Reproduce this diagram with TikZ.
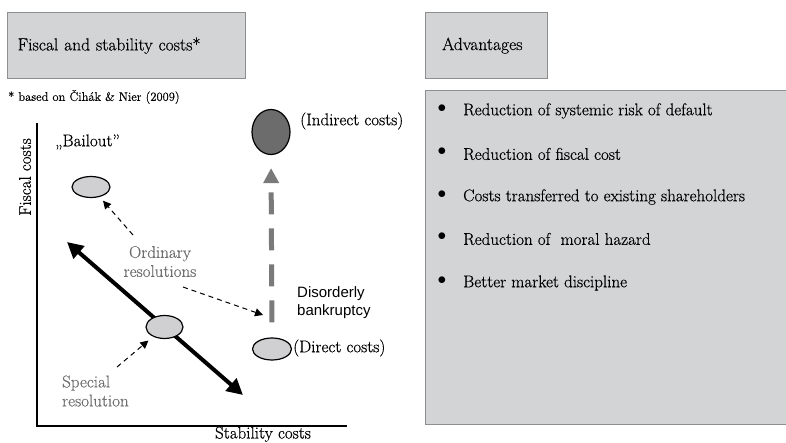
\documentclass[tikz,border=0pt]{standalone}
\usepackage{fontspec}
\setmainfont{Latin Modern Roman}[FakeBold=0.45]
\newfontfamily\arialf{Liberation Sans}
\usetikzlibrary{arrows.meta,shapes.geometric}
\definecolor{boxfill}{HTML}{D3D4D6}
\definecolor{boxline}{HTML}{8E8E8E}
\definecolor{ellfill}{HTML}{D0D0D2}
\definecolor{elldark}{HTML}{6C6C6C}
\definecolor{arrgray}{HTML}{7A7A7A}
\definecolor{txtgray}{HTML}{6E6E6E}
\tikzset{
  graybox/.style={draw=boxline, line width=1.3pt, fill=boxfill},
  bigtxt/.style={font=\fontsize{17}{19}\selectfont, inner sep=0pt},
  graytxt/.style={bigtxt, text=txtgray},
  ell/.style={ellipse, draw=black, line width=1.2pt, fill=ellfill, inner sep=0pt},
  dasharrow/.style={dashed, dash pattern=on 5pt off 4pt, line width=1pt, -{Triangle[length=8pt,width=8pt]}},
  thickarrow/.style={line width=4pt, {Triangle[length=16pt,width=16pt]}-{Triangle[length=16pt,width=16pt]}},
  grayarrow/.style={draw=arrgray, line width=5pt, dash pattern=on 22pt off 14pt, -{Triangle[length=15pt,width=15pt,fill=arrgray]}},
  bul/.style={bigtxt, anchor=west},
}
\begin{document}
\begin{tikzpicture}[x=1pt,y=-1pt]
\useasboundingbox (0,0) rectangle (786,443);
% title boxes
\node[graybox, anchor=north west, minimum width=238pt, minimum height=66pt, text width=218pt, inner xsep=10pt, align=left, font=\fontsize{17.5}{20}\selectfont] (t1) at (7,12) {Fiscal and stability costs*};
\node[graybox, anchor=north west, minimum width=122pt, minimum height=66pt, text width=111pt, inner xsep=0pt, inner ysep=0pt, align=left, font=\fontsize{17.5}{20}\selectfont] (t2) at (425,12) {\hspace*{11pt}Advantages};
\node[anchor=west, inner sep=0pt, font=\fontsize{12.5}{14}\selectfont] (fn) at (8,97) {* based on Čihák \& Nier (2009)};
% big box
\node[graybox, anchor=north west, minimum width=364pt, minimum height=334pt] (big) at (425,90) {};
\foreach \yy/\tx [count=\i] in {111/Reduction of systemic risk of default, 154/Reduction of fiscal cost, 197/Costs transferred to existing shareholders, 239/Reduction of\ \ moral hazard, 283/Better market discipline}{
  \node[bul] (b\i) at (463,\yy) {\tx};
  \node[inner sep=0pt, font=\fontsize{17}{19}\selectfont] (d\i) at (442,\yy-2) {$\bullet$};
}
% axes
\coordinate (ytop) at (37,123);
\coordinate (orig) at (37,426);
\coordinate (xend) at (347,426);
\draw[line width=1.5pt] (ytop) -- (orig) -- (xend);
\node[bigtxt, rotate=90] (ylab) at (25,177) {Fiscal costs};
\node[bigtxt, anchor=base] (xlab) at (263,438.5) {Stability costs};
% thick double arrow
\coordinate (ta) at (67,242);
\coordinate (tb) at (243,395);
\draw[thickarrow] (ta) -- (tb);
% ellipses
\node[ell, minimum width=38pt, minimum height=21pt] (bail) at (91,187) {};
\node[ell, minimum width=37pt, minimum height=23pt] (mid) at (164.5,327) {};
\node[ell, minimum width=39pt, minimum height=22pt] (dc) at (272,349) {};
\node[ell, fill=elldark, minimum width=38pt, minimum height=45pt] (ind) at (271,132) {};
% labels
\node[bigtxt, anchor=west] (bl) at (55,142) {„Bailout”};
\node[bigtxt, anchor=west] (indl) at (300,121) {(Indirect costs)};
\node[bigtxt, anchor=west] (dcl) at (293,348) {(Direct costs)};
\node[graytxt, align=center] (ord) at (160,261.5) {Ordinary\\resolutions};
\node[graytxt, align=left, anchor=west] (spec) at (62,391) {Special\\resolution};
\node[inner sep=0pt, align=left, anchor=west, font=\arialf\fontsize{15}{18}\selectfont] (dis) at (297,303) {Disorderly\\bankruptcy};
% gray dashed arrow
\draw[grayarrow, shorten <=15pt, shorten >=13pt] (dc.north) -- (ind.south);
% dashed arrows
\coordinate (o1) at (133,235);
\coordinate (o2) at (183,287);
\coordinate (o3) at (263,315);
\coordinate (s1) at (117,367);
\draw[dasharrow, shorten >=5pt] (o1) -- (bail);
\draw[dasharrow] (o2) -- (o3);
\draw[dasharrow, shorten >=6pt] (s1) -- (mid);
\end{tikzpicture}
\end{document}
